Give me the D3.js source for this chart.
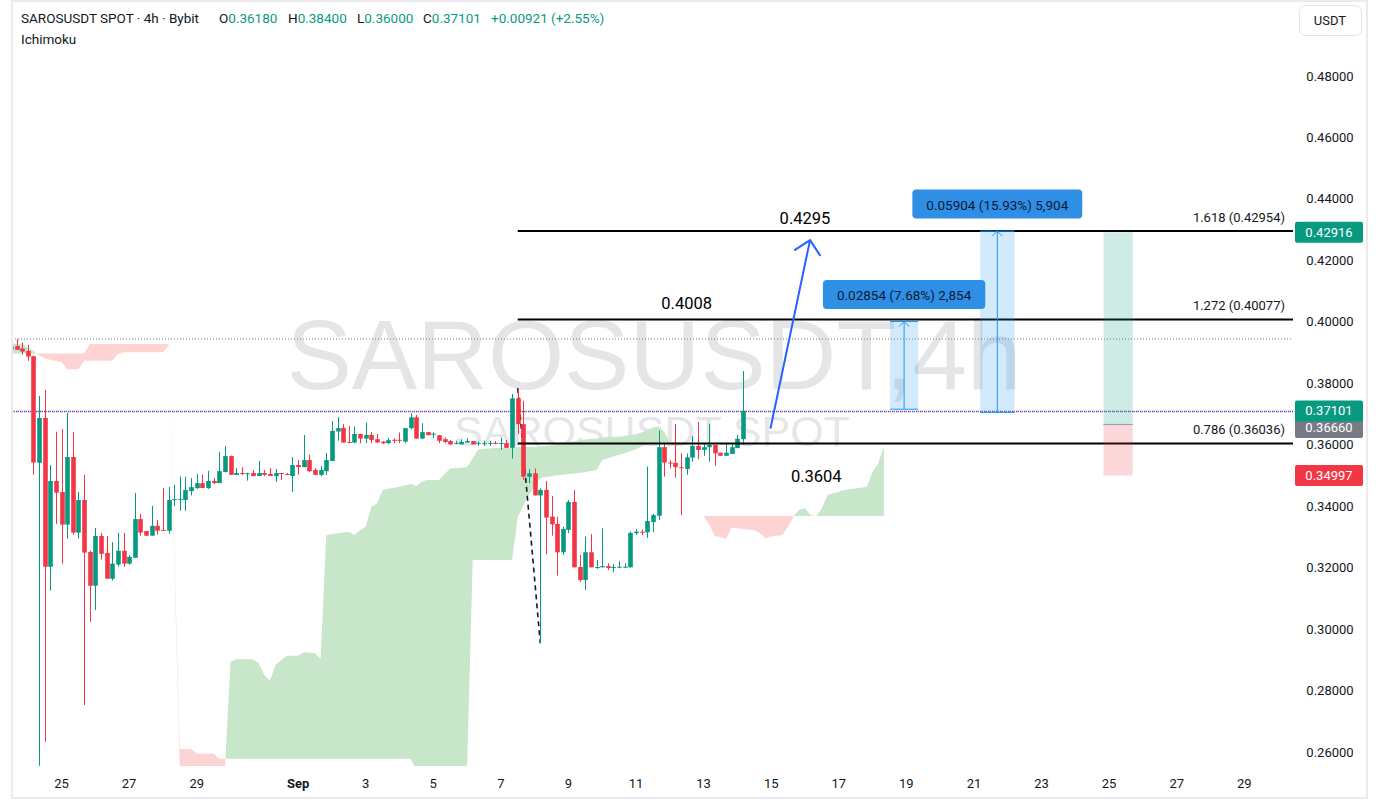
<!DOCTYPE html>
<html><head><meta charset="utf-8">
<script src="https://cdn.jsdelivr.net/npm/d3@7"></script>
<style>html,body{margin:0;padding:0;background:#fff;} svg{display:block;font-family:Roboto,"Noto Sans",sans-serif;}</style>
</head><body><svg id="c" width="1380" height="808"></svg>
<script>
// ---------- DATA ----------
// 4h candles, first one starts 2025-08-23 12:00 UTC (index -1)
const firstCandleIndex = -1;
const opens = [0.3910,0.3921,0.3913,0.3905,0.3888,0.3541,0.3687,0.3203,0.3482,0.3446,
0.3340,0.3560,0.3314,0.3420,0.3251,0.3141,0.3303,0.3248,0.3164,0.3210,
0.3255,0.3213,0.3232,0.3358,0.3319,0.3304,0.3336,0.3323,0.3320,0.3421,
0.3422,0.3420,0.3449,0.3459,0.3475,0.3459,0.3482,0.3475,0.3511,0.3563,
0.3502,0.3508,0.3506,0.3508,0.3498,0.3508,0.3505,0.3498,0.3508,0.3505,
0.3498,0.3534,0.3527,0.3550,0.3518,0.3502,0.3514,0.3547,0.3643,0.3655,
0.3609,0.3607,0.3635,0.3620,0.3632,0.3618,0.3610,0.3605,0.3616,0.3616,
0.3610,0.3654,0.3689,0.3620,0.3641,0.3635,0.3631,0.3618,0.3612,0.3605,
0.3601,0.3607,0.3612,0.3605,0.3605,0.3605,0.3606,0.3605,0.3605,0.3590,
0.3751,0.3667,0.3496,0.3507,0.3435,0.3453,0.3366,0.3342,0.3250,0.3323,
0.3414,0.3202,0.3160,0.3250,0.3201,0.3201,0.3205,0.3201,0.3202,0.3202,
0.3201,0.3312,0.3317,0.3315,0.3348,0.3369,0.3592,0.3542,0.3541,0.3527,
0.3521,0.3558,0.3596,0.3583,0.3592,0.3599,0.3574,0.3564,0.3570,0.3589,
0.3618];
const highs = [0.3925,0.3944,0.3932,0.3925,0.3890,0.3759,0.3778,0.3534,0.3642,0.3651,
0.3704,0.3642,0.3446,0.3502,0.3255,0.3329,0.3313,0.3303,0.3283,0.3313,
0.3313,0.3241,0.3443,0.3375,0.3319,0.3401,0.3355,0.3459,0.3463,0.3470,
0.3496,0.3496,0.3492,0.3505,0.3502,0.3515,0.3492,0.3577,0.3596,0.3565,
0.3524,0.3527,0.3509,0.3518,0.3547,0.3518,0.3524,0.3521,0.3508,0.3508,
0.3560,0.3550,0.3632,0.3567,0.3524,0.3531,0.3573,0.3677,0.3690,0.3667,
0.3661,0.3659,0.3636,0.3672,0.3642,0.3635,0.3612,0.3623,0.3621,0.3640,
0.3654,0.3702,0.3697,0.3670,0.3641,0.3641,0.3631,0.3624,0.3615,0.3613,
0.3618,0.3621,0.3612,0.3610,0.3613,0.3613,0.3612,0.3624,0.3615,0.3765,
0.3784,0.3743,0.3520,0.3523,0.3458,0.3482,0.3433,0.3366,0.3333,0.3420,
0.3453,0.3241,0.3301,0.3309,0.3225,0.3328,0.3214,0.3212,0.3221,0.3214,
0.3317,0.3325,0.3323,0.3529,0.3375,0.3646,0.3602,0.3550,0.3668,0.3572,
0.3572,0.3628,0.3674,0.3607,0.3668,0.3599,0.3574,0.3605,0.3605,0.3632,
0.3840];
const lows = [0.3905,0.3909,0.3893,0.3873,0.3502,0.2555,0.2634,0.3125,0.3342,0.3213,
0.3294,0.3307,0.3294,0.2753,0.3023,0.3062,0.3226,0.3164,0.3158,0.3203,
0.3203,0.3210,0.3232,0.3304,0.3304,0.3304,0.3307,0.3320,0.3310,0.3400,
0.3385,0.3385,0.3435,0.3456,0.3459,0.3456,0.3472,0.3475,0.3511,0.3502,
0.3501,0.3501,0.3483,0.3498,0.3498,0.3498,0.3498,0.3479,0.3485,0.3502,
0.3446,0.3502,0.3527,0.3511,0.3502,0.3498,0.3502,0.3547,0.3613,0.3607,
0.3605,0.3605,0.3605,0.3605,0.3605,0.3607,0.3602,0.3602,0.3605,0.3605,
0.3605,0.3650,0.3620,0.3618,0.3631,0.3622,0.3605,0.3605,0.3599,0.3601,
0.3601,0.3607,0.3601,0.3596,0.3596,0.3596,0.3601,0.3583,0.3590,0.3555,
0.3635,0.3485,0.3475,0.3435,0.2954,0.3243,0.3304,0.3174,0.3241,0.3312,
0.3201,0.3154,0.3127,0.3201,0.3196,0.3201,0.3192,0.3185,0.3198,0.3198,
0.3201,0.3306,0.3306,0.3297,0.3315,0.3355,0.3496,0.3523,0.3493,0.3371,
0.3502,0.3545,0.3553,0.3564,0.3545,0.3531,0.3564,0.3564,0.3570,0.3589,
0.3600];
const closes = [0.3918,0.3909,0.3903,0.3887,0.3542,0.3687,0.3203,0.3482,0.3444,0.3340,
0.3560,0.3314,0.3420,0.3249,0.3141,0.3303,0.3245,0.3164,0.3213,0.3255,
0.3213,0.3235,0.3358,0.3314,0.3304,0.3336,0.3320,0.3321,0.3420,0.3423,
0.3423,0.3453,0.3462,0.3475,0.3459,0.3482,0.3475,0.3514,0.3563,0.3502,
0.3508,0.3505,0.3507,0.3498,0.3508,0.3502,0.3498,0.3508,0.3505,0.3504,
0.3534,0.3527,0.3550,0.3514,0.3502,0.3518,0.3550,0.3645,0.3654,0.3607,
0.3607,0.3635,0.3620,0.3632,0.3615,0.3607,0.3605,0.3615,0.3614,0.3614,
0.3654,0.3689,0.3620,0.3641,0.3631,0.3636,0.3613,0.3609,0.3601,0.3606,
0.3609,0.3612,0.3601,0.3606,0.3606,0.3606,0.3605,0.3606,0.3590,0.3751,
0.3667,0.3496,0.3507,0.3435,0.3453,0.3363,0.3341,0.3250,0.3326,0.3414,
0.3201,0.3160,0.3250,0.3201,0.3202,0.3205,0.3199,0.3202,0.3203,0.3203,
0.3313,0.3317,0.3315,0.3352,0.3371,0.3592,0.3542,0.3540,0.3527,0.3525,
0.3559,0.3596,0.3583,0.3592,0.3599,0.3572,0.3564,0.3574,0.3592,0.3619,
0.37101];

// Ichimoku cloud (displaced), candle index positions
const cloudIdx = [-1,1,3,4,6,8,9,11,12,13,17,18,19,26,27,29,31,32,35,36,37,38,39,42,43,44,45,46,47,48,50,51,53,54,55,59,60,61,62,63,64,65,68,70,71,72,73,75,76,77,80,81,82,85,88,89,91,93,96,100,103,104,107,108,110,111,112,113,114,115,116,117,118,122,123,124,126,127,128,131,132,133,134,136,137,138,139,140,141,142,143,144,147,151,152,153,154];
const spanA = [0.3930,0.3928,0.3905,0.3890,0.3876,0.3869,0.3846,0.3846,0.3873,0.3873,0.3873,0.3895,0.3901,0.3901,0.3922,0.2545,0.2545,0.2545,0.2545,0.2545,0.2545,0.2892,0.2902,0.2902,0.2889,0.2851,0.2832,0.2883,0.2899,0.2913,0.2913,0.2925,0.2921,0.2903,0.3306,0.3317,0.3306,0.3322,0.3333,0.3398,0.3409,0.3453,0.3463,0.3472,0.3466,0.3480,0.3485,0.3485,0.3504,0.3523,0.3527,0.3556,0.3585,0.3589,0.3592,0.3593,0.3593,0.3594,0.3600,0.3615,0.3620,0.3624,0.3626,0.3628,0.3635,0.3640,0.3648,0.3656,0.3660,0.3642,0.3608,0.3596,0.3600,0.3368,0.3339,0.3303,0.3295,0.3331,0.3328,0.3322,0.3312,0.3295,0.3301,0.3306,0.3333,0.3368,0.3388,0.3393,0.3371,0.3368,0.3393,0.3436,0.3453,0.3463,0.3512,0.3539,0.3594];
const spanB = [0.3897,0.3897,0.3897,0.3897,0.3897,0.3897,0.3897,0.3897,0.3897,0.3928,0.3928,0.3928,0.3928,0.3928,0.3928,0.2610,0.2610,0.2594,0.2594,0.2578,0.2578,0.2578,0.2578,0.2578,0.2578,0.2578,0.2578,0.2578,0.2578,0.2578,0.2578,0.2578,0.2578,0.2578,0.2578,0.2578,0.2578,0.2578,0.2578,0.2578,0.2578,0.2578,0.2578,0.2578,0.2540,0.2540,0.2540,0.2540,0.2540,0.2540,0.2540,0.3225,0.3225,0.3225,0.3225,0.3366,0.3436,0.3492,0.3501,0.3508,0.3518,0.3550,0.3567,0.3572,0.3585,0.3595,0.3602,0.3605,0.3605,0.3605,0.3605,0.3606,0.3600,0.3368,0.3368,0.3368,0.3368,0.3368,0.3368,0.3368,0.3368,0.3368,0.3368,0.3368,0.3368,0.3368,0.3368,0.3368,0.3368,0.3368,0.3368,0.3368,0.3368,0.3368,0.3368,0.3368,0.3368];

// axes
const priceTicks = [0.26,0.28,0.30,0.32,0.34,0.36,0.38,0.40,0.42,0.44,0.46,0.48];
const dateTicks = ["2025-08-25","2025-08-27","2025-08-29","2025-09-01","2025-09-03","2025-09-05","2025-09-07","2025-09-09","2025-09-11","2025-09-13","2025-09-15","2025-09-17","2025-09-19","2025-09-21","2025-09-23","2025-09-25","2025-09-27","2025-09-29"];
const dateLabels = ["25","27","29","Sep","3","5","7","9","11","13","15","17","19","21","23","25","27","29"];

// drawings
const fibStartIdx = 89;
const fibRatios = ["1.618","1.272","0.786"];
const fibPrices = [0.42954,0.40077,0.36036];
const targetTexts = ["0.4295","0.4008","0.3604"];
const targetIdx = [140,119,142];
const targetPrices = [0.4337,0.4058,0.3496];
const swingIdx = [89,93];
const swingPrices = [0.3784,0.2954];
const arrowIdx = [133.9,140.9];
const arrowPrices = [0.3655,0.4266];
const measureIdx0 = [155.1,171.1];
const measureIdx1 = [160.1,177.2];
const measureFrom = [0.37156,0.37050];
const measureTo = [0.40010,0.42954];
const measureTexts = ["0.02854 (7.68%) 2,854","0.05904 (15.93%) 5,904"];
const longIdx = [193,198.2];
const longTarget = 0.42916, longEntry = 0.3666, longStop = 0.34997;
const lastPrice = 0.37101;
const grayLevel = 0.3944;
const axisTagValues = [0.36660,0.42916,0.37101,0.34997];
const axisTagColors = ["#787b86","#089981","#089981","#f23645"];
const ohlcLabels = ["O","H","L","C"];
const ohlcValues = ["0.36180","0.38400","0.36000","0.37101"];
const changeText = "+0.00921 (+2.55%)";

// ---------- SCALES ----------
const H4 = 4*3600e3;
const T0 = Date.UTC(2025,7,23,16);
const x = d3.scaleUtc().domain([new Date(T0), new Date(T0 + 218*H4)]).range([16.5, 16.5 + 218*5.632]);
const X = i => x(new Date(T0 + i*H4));
const y = d3.scaleLinear().domain([0.26,0.48]).range([752,76]);
const plot = {l:12, r:1293, t:1, b:766};
const UP = "#089981", DOWN = "#f23645", TXT = "#131722";

const svg = d3.select("#c");
svg.append("rect").attr("width",1380).attr("height",808).attr("fill","#fff");
svg.append("defs").append("clipPath").attr("id","pc").append("rect")
  .attr("x",plot.l).attr("y",plot.t).attr("width",plot.r-plot.l).attr("height",plot.b-plot.t);

const g = svg.append("g").attr("clip-path","url(#pc)");

// watermark
g.append("text").attr("x",654).attr("y",389).attr("text-anchor","middle").attr("font-family","'Liberation Sans',Arial,sans-serif")
  .attr("font-size",98).attr("fill","rgba(120,123,134,0.2)").text("SAROSUSDT,4h");
g.append("text").attr("x",652).attr("y",446).attr("text-anchor","middle").attr("font-family","'Liberation Sans',Arial,sans-serif")
  .attr("font-size",43).attr("fill","rgba(120,123,134,0.2)").text("SAROSUSDT SPOT");

// ---------- CLOUD ----------
const pts = cloudIdx.map((i,k)=>({i, a:spanA[k], b:spanB[k]}));
function runs(p){
  const out=[]; let cur=null;
  for(let k=0;k<p.length;k++){
    const q=p[k], s=q.a>=q.b?1:-1;
    if(!cur){cur={s,pts:[q]};continue;}
    if(s===cur.s){cur.pts.push(q);}
    else{
      const o=p[k-1], d0=o.a-o.b, d1=q.a-q.b, t=d0/(d0-d1);
      const m={i:o.i+t*(q.i-o.i), a:o.a+t*(q.a-o.a)}; m.b=m.a;
      cur.pts.push(m); out.push(cur); cur={s,pts:[m,q]};
    }
  }
  if(cur) out.push(cur);
  return out;
}
const area = d3.area().x(d=>X(d.i)).y0(d=>y(d.b)).y1(d=>y(d.a));
g.append("g").selectAll("path").data(runs(pts)).join("path")
  .attr("d",d=>area(d.pts))
  .attr("fill",d=>d.s>0?"#c8e6c9":"#fdd3d3");

// gray dotted level & current price line (blue/red dotted)
g.append("line").attr("x1",plot.l).attr("x2",plot.r).attr("y1",y(grayLevel)).attr("y2",y(grayLevel))
  .attr("stroke","#787b86").attr("stroke-dasharray","1,2").attr("stroke-width",1);
const lpY = Math.round(y(lastPrice))+0.5;
g.append("line").attr("x1",plot.l).attr("x2",plot.r).attr("y1",lpY).attr("y2",lpY)
  .attr("stroke","#f23645").attr("stroke-dasharray","1,3").attr("stroke-dashoffset",2).attr("stroke-width",1.3);
g.append("line").attr("x1",plot.l).attr("x2",plot.r).attr("y1",lpY).attr("y2",lpY)
  .attr("stroke","#2962ff").attr("stroke-dasharray","1.5,2.5").attr("stroke-width",1.5);

// dashed swing line
g.append("line").attr("x1",X(swingIdx[0])).attr("y1",y(swingPrices[0]))
  .attr("x2",X(swingIdx[1])).attr("y2",y(swingPrices[1]))
  .attr("stroke","#131722").attr("stroke-width",1.6).attr("stroke-dasharray","5,4");

// ---------- CANDLES ----------
const candles = opens.map((o,k)=>({i:k+firstCandleIndex,o,h:highs[k],l:lows[k],c:closes[k]}));
const cg = g.append("g");
cg.selectAll("line").data(candles).join("line")
  .attr("x1",d=>Math.round(X(d.i))+0.5).attr("x2",d=>Math.round(X(d.i))+0.5)
  .attr("y1",d=>y(d.h)).attr("y2",d=>y(d.l))
  .attr("stroke",d=>d.c>=d.o?UP:DOWN).attr("stroke-width",1);
cg.selectAll("rect").data(candles).join("rect")
  .attr("x",d=>Math.round(X(d.i))+0.5-2.3).attr("width",4.6)
  .attr("y",d=>y(Math.max(d.o,d.c)))
  .attr("height",d=>Math.max(1,Math.abs(y(d.o)-y(d.c))))
  .attr("fill",d=>d.c>=d.o?UP:DOWN);

// ---------- FIB LINES ----------
fibPrices.forEach((p,k)=>{
  g.append("line").attr("x1",X(fibStartIdx)).attr("x2",plot.r).attr("y1",y(p)).attr("y2",y(p))
    .attr("stroke","#000").attr("stroke-width",2);
  svg.append("text").attr("x",1285).attr("y",y(p)-14).attr("text-anchor","end")
    .attr("dominant-baseline","central").attr("font-size",13).attr("fill",TXT)
    .text(`${fibRatios[k]} (${p.toFixed(5)})`);
});
targetTexts.forEach((t,k)=>{
  svg.append("text").attr("x",X(targetIdx[k])).attr("y",y(targetPrices[k]))
    .attr("text-anchor","middle").attr("dominant-baseline","central")
    .attr("font-size",16.5).attr("fill","#000").text(t);
});

// ---------- ARROW ----------
const ax0=X(arrowIdx[0]), ay0=y(arrowPrices[0]), ax1=X(arrowIdx[1]), ay1=y(arrowPrices[1]);
const ang=Math.atan2(ay0-ay1, ax0-ax1), wl=18, wa=Math.PI/4;
svg.append("path")
  .attr("d",`M${ax0},${ay0}L${ax1},${ay1}M${ax1+wl*Math.cos(ang+wa)},${ay1+wl*Math.sin(ang+wa)}L${ax1},${ay1}L${ax1+wl*Math.cos(ang-wa)},${ay1+wl*Math.sin(ang-wa)}`)
  .attr("fill","none").attr("stroke","#2962ff").attr("stroke-width",2).attr("stroke-linecap","round");

// ---------- MEASURE BOXES ----------
measureTexts.forEach((t,k)=>{
  const x0=X(measureIdx0[k]), x1=X(measureIdx1[k]), yt=y(measureTo[k]), yb=y(measureFrom[k]), cx=(x0+x1)/2;
  g.append("rect").attr("x",x0).attr("y",yt).attr("width",x1-x0).attr("height",yb-yt).attr("fill","rgba(33,150,243,0.2)");
  g.append("path").attr("d",`M${x0},${yt}H${x1}M${x0},${yb}H${x1}M${cx},${yb}V${yt}M${cx-5},${yt+5}L${cx},${yt}L${cx+5},${yt+5}`)
    .attr("stroke","#2196f3").attr("stroke-width",1).attr("fill","none");
  const lg = svg.append("g");
  const tx = lg.append("text").attr("x",cx).attr("y",yt-26.5).attr("text-anchor","middle")
    .attr("dominant-baseline","central").attr("font-size",13.5).attr("fill","#0c1a33").text(t);
  const w = tx.node().getComputedTextLength()+28;
  lg.insert("rect","text").attr("x",cx-w/2).attr("y",yt-41.5).attr("width",w).attr("height",29)
    .attr("rx",4).attr("fill","#2f8fe6");
});

// ---------- LONG POSITION ----------
const lx0=X(longIdx[0]), lx1=X(longIdx[1]);
g.append("rect").attr("x",lx0).attr("width",lx1-lx0).attr("y",y(longTarget)).attr("height",y(longEntry)-y(longTarget)).attr("fill","rgba(8,153,129,0.2)");
g.append("rect").attr("x",lx0).attr("width",lx1-lx0).attr("y",y(longEntry)).attr("height",y(longStop)-y(longEntry)).attr("fill","rgba(242,54,69,0.2)");
g.append("line").attr("x1",lx0).attr("x2",lx1).attr("y1",y(longEntry)).attr("y2",y(longEntry)).attr("stroke","#9598a1").attr("stroke-width",1);

// ---------- PRICE AXIS ----------
svg.append("g").selectAll("text").data(priceTicks).join("text")
  .attr("x",1330).attr("y",d=>y(d)).attr("text-anchor","middle").attr("dominant-baseline","central")
  .attr("font-size",13).attr("fill",TXT).text(d=>d.toFixed(5));
axisTagValues.forEach((v,k)=>{
  const cy = k===0 ? y(v)+3 : y(v);
  svg.append("rect").attr("x",1295).attr("y",cy-10.5).attr("width",68).attr("height",21).attr("rx",2).attr("fill",axisTagColors[k]);
  svg.append("text").attr("x",1329).attr("y",cy).attr("text-anchor","middle").attr("dominant-baseline","central")
    .attr("font-size",13).attr("fill","#fff").text(v.toFixed(5));
});

// ---------- TIME AXIS ----------
svg.append("g").selectAll("text").data(dateTicks).join("text")
  .attr("x",d=>x(new Date(d+"T00:00:00Z"))).attr("y",783).attr("text-anchor","middle").attr("dominant-baseline","central")
  .attr("font-size",13).attr("fill",TXT).attr("font-weight",(d,k)=>dateLabels[k]==="Sep"?"bold":"normal")
  .text((d,k)=>dateLabels[k]);

// ---------- FRAME & HEADER ----------
svg.append("rect").attr("x",12).attr("y",1).attr("width",1355).attr("height",797).attr("fill","none")
  .attr("stroke","#e9ebf0").attr("stroke-width",2);
svg.append("text").attr("x",21).attr("y",18).attr("dominant-baseline","central").attr("font-size",13.5).attr("fill",TXT)
  .text("SAROSUSDT SPOT · 4h · Bybit");
const ohlcX = [219,288,357,423];
ohlcLabels.forEach((l,k)=>{
  const t = svg.append("text").attr("x",ohlcX[k]).attr("y",18).attr("dominant-baseline","central").attr("font-size",13.5);
  t.append("tspan").attr("fill",TXT).text(l);
  t.append("tspan").attr("fill",UP).text(ohlcValues[k]);
});
svg.append("text").attr("x",491).attr("y",18).attr("dominant-baseline","central").attr("font-size",13.5).attr("fill",UP).text(changeText);
svg.append("text").attr("x",21).attr("y",39).attr("dominant-baseline","central").attr("font-size",13.5).attr("fill",TXT).text("Ichimoku");
svg.append("rect").attr("x",1299.5).attr("y",5.5).attr("width",62).attr("height",30).attr("rx",6).attr("fill","#fff").attr("stroke","#e0e3eb");
svg.append("text").attr("x",1330).attr("y",20.5).attr("text-anchor","middle").attr("dominant-baseline","central").attr("font-size",13).attr("fill",TXT).text("USDT");
</script></body></html>
